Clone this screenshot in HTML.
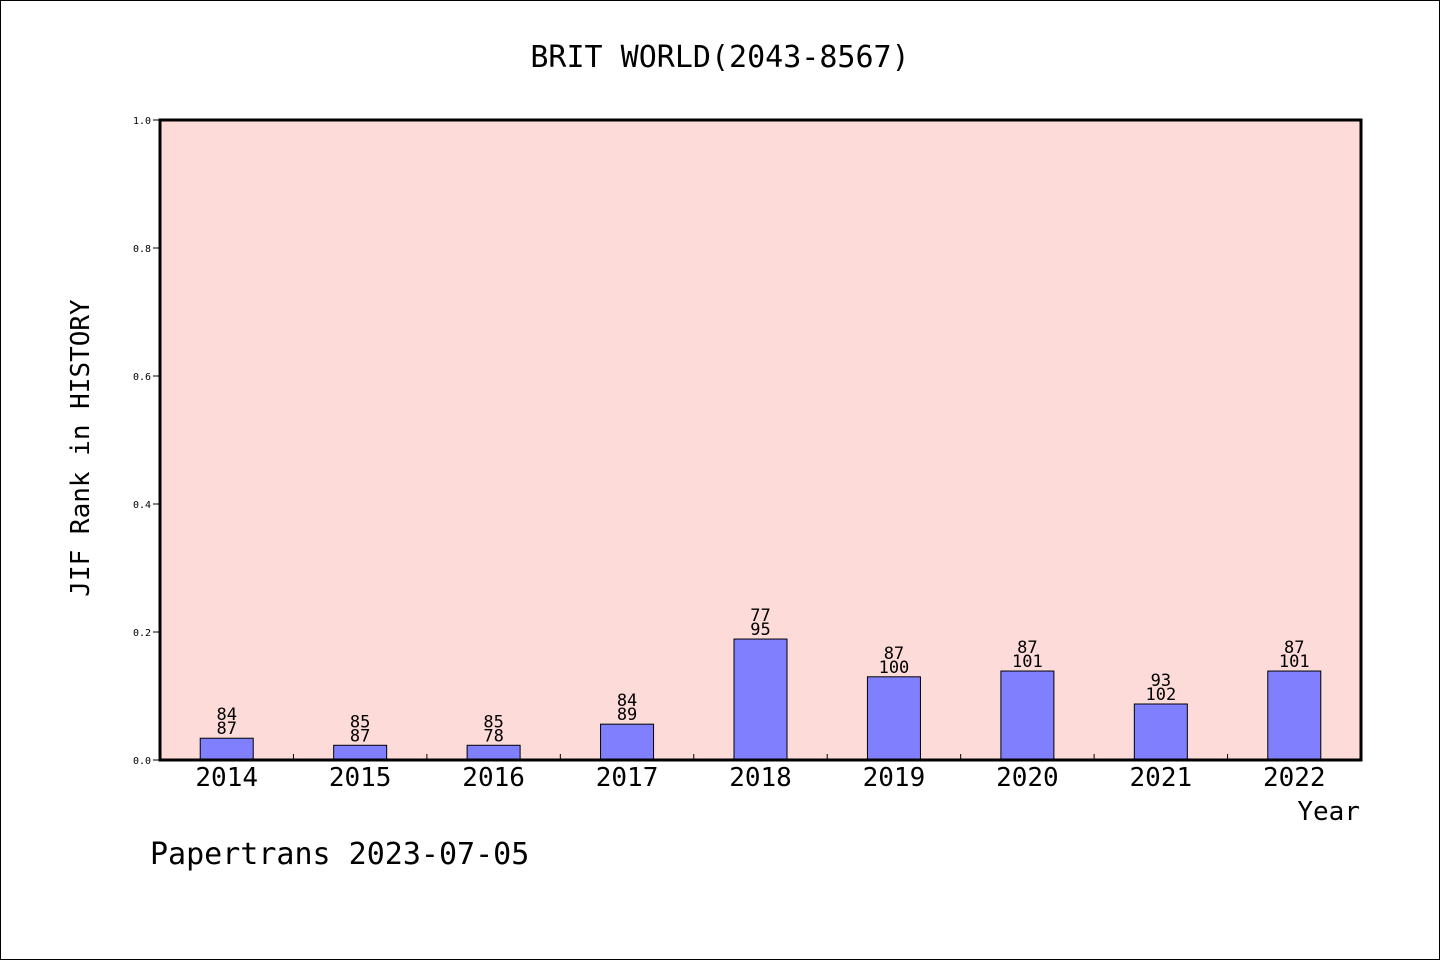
<!DOCTYPE html>
<html><head><meta charset="utf-8"><style>
body{margin:0;background:#fff}
svg{display:block;font-family:"DejaVu Sans Mono","Liberation Mono",monospace}
</style></head><body>
<svg width="1440" height="960">
<rect x="0.5" y="0.5" width="1439" height="959" fill="#fff" stroke="#000"/>
<text x="720" y="67" text-anchor="middle" font-size="30">BRIT WORLD(2043-8567)</text>
<rect x="160" y="120" width="1201" height="640" fill="#fddbd8"/>
<g id="bars"></g>
<g id="axes"></g>
<rect x="160" y="120" width="1201" height="640" fill="none" stroke="#000" stroke-width="3"/>
<text transform="translate(89,448) rotate(-90)" text-anchor="middle" font-size="26">JIF Rank in HISTORY</text>
<text x="1360" y="820" text-anchor="end" font-size="26">Year</text>
<text x="150" y="864" font-size="30">Papertrans 2023-07-05</text>
</svg>
<script>
const years=["2014","2015","2016","2017","2018","2019","2020","2021","2022"];
const values=[0.034,0.023,0.023,0.056,0.189,0.13,0.139,0.0875,0.139];
const ranks=["84","85","85","84","77","87","87","93","87"];
const totals=["87","87","78","89","95","100","101","102","101"];
const yTicks=[0,0.2,0.4,0.6,0.8,1.0];
const NS="http://www.w3.org/2000/svg";
const X0=160,W=1201,Y0=760,H=640;
const band=W/years.length;
const xc=i=>X0+band*(i+0.5);
const y=v=>Y0-v*H;
function mk(t,a,p){const e=document.createElementNS(NS,t);for(const k in a)e.setAttribute(k,a[k]);p.appendChild(e);return e;}
const gb=document.getElementById('bars'),ga=document.getElementById('axes');
years.forEach((yr,i)=>{
 const r=mk('rect',{x:xc(i)-26.5,y:y(values[i]),width:53,height:Y0-y(values[i]),fill:'#8080ff',stroke:'#000','stroke-width':1},gb);
 
 
 const t1=mk('text',{x:xc(i),y:y(values[i])-18,'text-anchor':'middle','font-size':17},gb);t1.textContent=ranks[i];
 
 
 const t2=mk('text',{x:xc(i),y:y(values[i])-4,'text-anchor':'middle','font-size':17},gb);t2.textContent=totals[i];
 
 
 const tl=mk('text',{x:xc(i),y:786,'text-anchor':'middle','font-size':26},ga);tl.textContent=yr;
 
 
 if(i>0){const l=mk('line',{x1:X0+band*i,x2:X0+band*i,y1:760,y2:754,stroke:'#000'},ga);
 
 }
});
yTicks.forEach(v=>{
 const l=mk('line',{x1:153,x2:160,y1:y(v),y2:y(v),stroke:'#000'},ga);
 
 
 const t=mk('text',{x:151,y:y(v)+4,'text-anchor':'end','font-size':10},ga);t.textContent=v.toFixed(1);
 
 
});
</script>
</body></html>
